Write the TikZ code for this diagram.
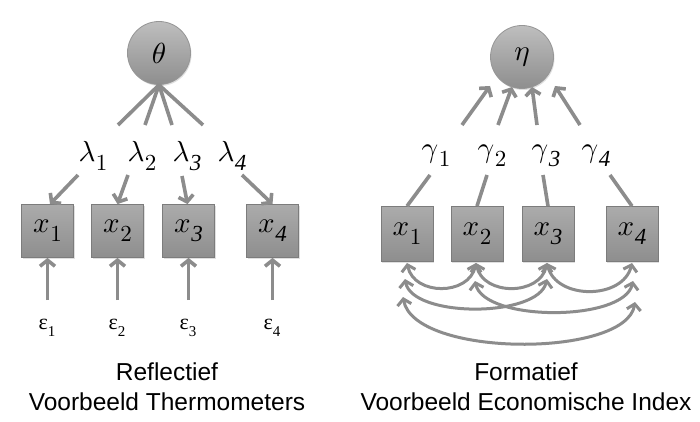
\documentclass[tikz,border=0pt]{standalone}
\usepackage{graphicx}
\usepackage{fontspec}
\setmainfont{Liberation Sans}
\newfontfamily\tms{Liberation Serif}
\usetikzlibrary{arrows.meta,calc,shadows}
\definecolor{arrgray}{HTML}{8C8C8C}
\definecolor{boxtop}{HTML}{ABABAB}
\definecolor{boxbot}{HTML}{8E8E8E}
\definecolor{boxline}{HTML}{7C7C7C}
\definecolor{circtop}{HTML}{BEBEBE}
\definecolor{circbot}{HTML}{8E8E8E}
\newcommand\ssub[2]{\scalebox{2.9}{$#1$}\kern0.5pt\raisebox{-9pt}{\scalebox{2.3}{#2}}}
\newcommand\itd[1]{{\tms\itshape\fontsize{10}{10}\selectfont #1}}
\newcommand\upd[1]{$#1$}
\newcommand\esub[2]{#1\raisebox{-0.3em}{\fontsize{15}{15}\selectfont #2}}
\begin{document}
\begin{tikzpicture}[x=1pt,y=-1pt,
  conn/.style={draw=arrgray, line width=3.6pt},
  arr/.style={conn, -{Straight Barb[length=6pt,width=15pt]}},
  dbl/.style={draw=arrgray, line width=3pt, {Straight Barb[length=6pt,width=14pt]}-{Straight Barb[length=6pt,width=14pt]}},
  box/.style={rectangle, minimum width=52pt, minimum height=53pt, inner sep=0pt, top color=boxtop, bottom color=boxbot, draw=boxline, line width=0.8pt, drop shadow={opacity=0.25, shadow xshift=1pt, shadow yshift=-1.5pt}},
  circ/.style={circle, minimum size=63pt, inner sep=0pt, top color=circtop, bottom color=circbot, draw=boxline!80, line width=0.8pt, drop shadow={opacity=0.25, shadow xshift=1pt, shadow yshift=-1.5pt}},
  lbl/.style={inner sep=0pt},
  elbl/.style={inner sep=0pt, font=\tms\fontsize{22}{22}\selectfont},
  captxt/.style={inner sep=0pt, align=center, font=\fontsize{24.5}{30}\selectfont}
]
\useasboundingbox (0,0) rectangle (700,422);
\fill[white] (0,0) rectangle (700,422);

% ---------- Left: reflective ----------
\node[circ] (theta) at (159,53) {\scalebox{2.9}{$\theta$}};
\node[box] (x1) at (47.5,231) {\ssub{x}{\upd{1}}};
\node[box] (x2) at (117.5,231) {\ssub{x}{\upd{2}}};
\node[box] (x3) at (188.5,231) {\ssub{x}{\itd{3}}};
\node[box] (x4) at (272.5,231) {\ssub{x}{\itd{4}}};

\node[lbl] (lam1) at (93,156) {\ssub{\lambda}{\upd{1}}};
\node[lbl] (lam2) at (142,156) {\ssub{\lambda}{\upd{2}}};
\node[lbl] (lam3) at (187,156) {\ssub{\lambda}{\itd{3}}};
\node[lbl] (lam4) at (232,156) {\ssub{\lambda}{\itd{4}}};

\coordinate (t1) at (118,125);
\coordinate (t2) at (145,125);
\coordinate (t3) at (172,125);
\coordinate (t4) at (203,125);
\draw[conn] (theta.south) -- (t1);
\draw[conn] (theta.south) -- (t2);
\draw[conn] (theta.south) -- (t3);
\draw[conn] (theta.south) -- (t4);

\coordinate (s1) at (78,175);
\coordinate (s2) at (128,175);
\coordinate (s3) at (182,176);
\coordinate (s4) at (242,175);
\draw[arr] (s1) -- ($(x1.north)+(2.5,0)$);
\draw[arr] (s2) -- (x2.north);
\draw[arr] (s3) -- ($(x3.north)+(-1,0)$);
\draw[arr] (s4) -- (x4.north);

\node[elbl] (e1) at (47,328) {\esub{ε}{1}};
\node[elbl] (e2) at (117,328) {\esub{ε}{2}};
\node[elbl] (e3) at (188,328) {\esub{ε}{3}};
\node[elbl] (e4) at (272,328) {\esub{ε}{4}};
\coordinate (b1) at (47.5,300);
\coordinate (b2) at (117.5,300);
\coordinate (b3) at (188.5,300);
\coordinate (b4) at (272.5,300);
\draw[arr] (b1) -- (x1.south);
\draw[arr] (b2) -- (x2.south);
\draw[arr] (b3) -- (x3.south);
\draw[arr] (b4) -- (x4.south);

\node[captxt] (capL) at (167,387) {Reflectief\\Voorbeeld Thermometers};

% ---------- Right: formative ----------
\node[circ] (eta) at (522,57) {\scalebox{2.9}{$\eta$}};
\node[box, minimum height=55pt] (r1) at (407,234) {\ssub{x}{\upd{1}}};
\node[box, minimum height=55pt] (r2) at (477,234) {\ssub{x}{\upd{2}}};
\node[box, minimum height=55pt] (r3) at (548,234) {\ssub{x}{\itd{3}}};
\node[box, minimum height=55pt] (r4) at (632,234) {\ssub{x}{\itd{4}}};

\node[lbl] (g1) at (436,156) {\ssub{\gamma}{\upd{1}}};
\node[lbl] (g2) at (492,156) {\ssub{\gamma}{\upd{2}}};
\node[lbl] (g3) at (546,156) {\ssub{\gamma}{\itd{3}}};
\node[lbl] (g4) at (596,156) {\ssub{\gamma}{\itd{4}}};

\coordinate (c1) at (430,175);
\coordinate (c2) at (487,175);
\coordinate (c3) at (543,175);
\coordinate (c4) at (610,175);
\draw[conn] (r1.north) -- (c1);
\draw[conn] (r2.north) -- (c2);
\draw[conn] (r3.north) -- (c3);
\draw[conn] (r4.north) -- (c4);

\coordinate (u1) at (462,125);
\coordinate (u2) at (498,125);
\coordinate (u3) at (537,125);
\coordinate (u4) at (580,125);
\coordinate (h1) at (490,86);
\coordinate (h2) at (512,87);
\coordinate (h3) at (532,87);
\coordinate (h4) at (555,86);
\draw[arr] (u1) -- (h1);
\draw[arr] (u2) -- (h2);
\draw[arr] (u3) -- (h3);
\draw[arr] (u4) -- (h4);

% correlations among indicators
\coordinate (p1a) at (407,263);
\coordinate (p2a) at (476,263);
\coordinate (p3a) at (547,263);
\coordinate (p4a) at (632,263);
\coordinate (p1b) at (405,279);
\coordinate (p2b) at (475,281);
\coordinate (p3b) at (547,279);
\coordinate (p4b) at (633,281);
\coordinate (p1c) at (403,297);
\coordinate (p4c) at (635,302);
\draw[dbl] (p1a) .. controls (414,296) and (469,296) .. (p2a);
\draw[dbl] (p2a) .. controls (483,296) and (540,296) .. (p3a);
\draw[dbl] (p3a) .. controls (556,300) and (623,300) .. (p4a);
\draw[dbl] (p1b) .. controls (412,318) and (538,318) .. (p3b);
\draw[dbl] (p2b) .. controls (484,322) and (624,322) .. (p4b);
\draw[dbl] (p1c) .. controls (414,358) and (626,358) .. (p4c);

\node[captxt] (capR) at (526,387) {Formatief\\Voorbeeld Economische Index};
\end{tikzpicture}
\end{document}
